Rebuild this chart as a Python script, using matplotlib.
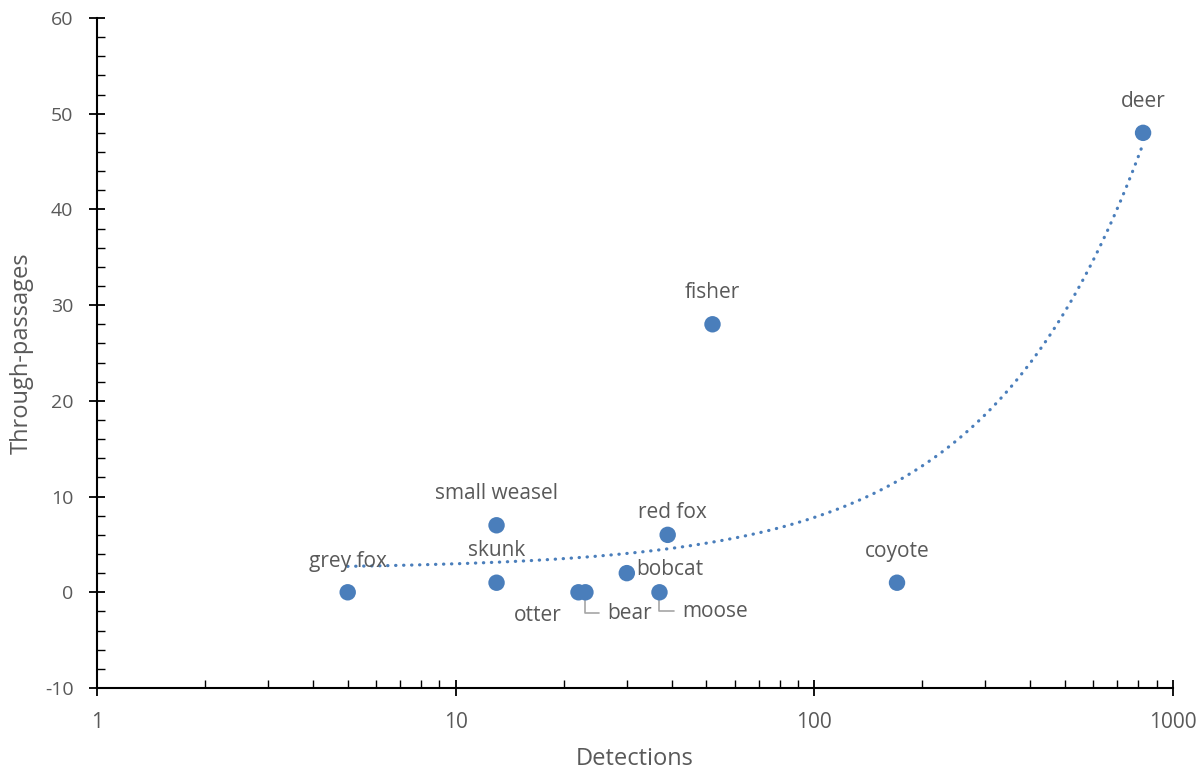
import numpy as np
import matplotlib.pyplot as plt
from matplotlib.ticker import FixedLocator, LogLocator, NullFormatter, FuncFormatter

# Species detections vs through-passages
species = ['grey fox', 'small weasel', 'skunk', 'otter', 'bear', 'bobcat',
           'moose', 'red fox', 'fisher', 'coyote', 'deer']
detections = [5, 13, 13, 22, 23, 30, 37, 39, 52, 170, 825]
passages = [0, 7, 1, 0, 0, 2, 0, 6, 28, 1, 48]

# label offsets in pixels from each point (dx, dy)
label_offsets = {
    'grey fox': (0, 31), 'small weasel': (0, 32), 'skunk': (0, 32),
    'otter': (-41, -23), 'bear': (44, -21), 'bobcat': (43, 4),
    'moose': (56, -19), 'red fox': (5, 22), 'fisher': (0, 32),
    'coyote': (0, 31), 'deer': (0, 31),
}
leader_labels = ['bear', 'moose']

C_POINT = '#4A7EBB'
C_TEXT = '#595959'
C_LEADER = '#A6A6A6'

plt.rcParams['font.family'] = ['Open Sans', 'DejaVu Sans']
plt.rcParams['axes.unicode_minus'] = False

fig = plt.figure(figsize=(11.96, 7.72), dpi=100)
ax = fig.add_axes([0.0811, 0.1088, 0.8997, 0.8679])

x = np.array(detections, dtype=float)
y = np.array(passages, dtype=float)

# linear trendline (Excel style), drawn over the data range
slope, icpt = np.polyfit(x, y, 1)
xs = np.linspace(x.min(), x.max(), 600)
ax.plot(xs, slope * xs + icpt, color=C_POINT, linewidth=2.3,
        linestyle=(0, (0.1, 2.4)), dash_capstyle='round', zorder=2)

ax.scatter(x, y, s=140, color=C_POINT, edgecolors='none', zorder=3)

for name, xi, yi in zip(species, x, y):
    dx, dy = label_offsets[name]
    if name in leader_labels:
        ax.annotate(name, (xi, yi), xytext=(dx, dy), textcoords='offset pixels',
                    ha='center', va='center', fontsize=15, color=C_TEXT,
                    arrowprops=dict(arrowstyle='-', color=C_LEADER, lw=1.2,
                                    connectionstyle='angle,angleA=0,angleB=90,rad=0',
                                    relpos=(0, 0.5), shrinkA=4, shrinkB=0),
                    zorder=1)
    else:
        ax.annotate(name, (xi, yi), xytext=(dx, dy), textcoords='offset pixels',
                    ha='center', va='center', fontsize=15, color=C_TEXT)

ax.set_xscale('log')
ax.set_xlim(1, 1000)
ax.set_ylim(-10, 60)
ax.xaxis.set_major_locator(FixedLocator([1, 10, 100, 1000]))
ax.xaxis.set_major_formatter(FuncFormatter(lambda v, p: f'{v:g}'))
ax.xaxis.set_minor_locator(LogLocator(base=10, subs=np.arange(2, 10)))
ax.xaxis.set_minor_formatter(NullFormatter())
ax.yaxis.set_major_locator(FixedLocator(np.arange(-10, 61, 10)))
ax.yaxis.set_minor_locator(FixedLocator(np.arange(-10, 61, 2)))

for side in ['top', 'right']:
    ax.spines[side].set_visible(False)
for side in ['left', 'bottom']:
    ax.spines[side].set_color('black')
    ax.spines[side].set_linewidth(1.5)

ax.tick_params(which='major', direction='inout', length=12, width=1.3,
               color='black', labelcolor=C_TEXT)
ax.tick_params(which='minor', direction='in', length=6, width=1.0, color='black')
ax.tick_params(axis='x', which='major', pad=11, labelsize=15)
ax.tick_params(axis='y', which='major', pad=11, labelsize=14)

ax.set_xlabel('Detections', fontsize=17, color=C_TEXT, labelpad=10)
ax.set_ylabel('Through-passages', fontsize=17, color=C_TEXT, labelpad=8)

fig.savefig('out.png', dpi=100)
